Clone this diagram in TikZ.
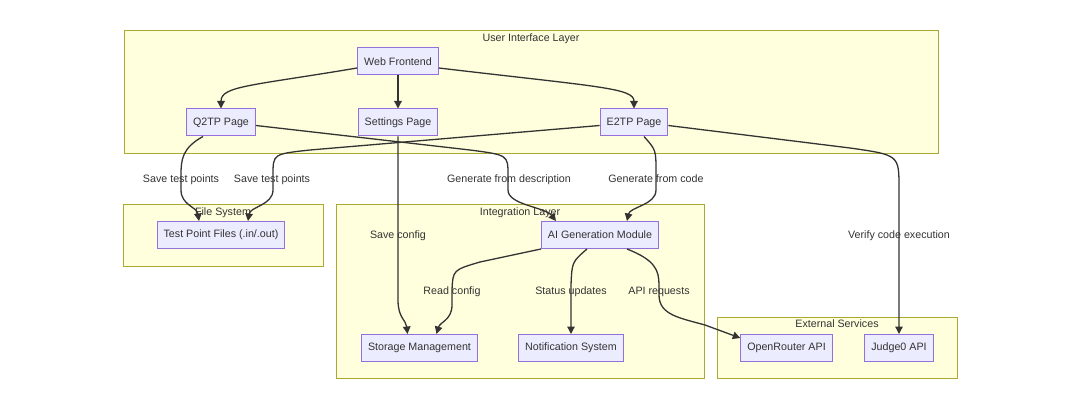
\documentclass[tikz,border=0pt]{standalone}
\usepackage{fontspec}
\setmainfont{Liberation Sans}
\usetikzlibrary{positioning,arrows.meta}
\definecolor{clusterfill}{HTML}{FFFFDE}
\definecolor{clusterline}{HTML}{AAAA33}
\definecolor{nodefill}{HTML}{ECECFF}
\definecolor{nodeline}{HTML}{9370DB}
\definecolor{edgeline}{HTML}{333333}

\begin{document}
\begin{tikzpicture}[x=1pt, y=-1pt,
  every node/.style={font=\fontsize{10.7}{12.8}\selectfont, text=edgeline},
  cluster/.style={rectangle, draw=clusterline, fill=clusterfill, line width=0.9pt, inner sep=0pt},
  clabel/.style={inner sep=0pt, text height=7.7pt, text depth=0pt},
  comp/.style={rectangle, draw=nodeline, fill=nodefill, line width=1pt,
               inner xsep=6.5pt, minimum height=27pt},
  elabel/.style={inner sep=0pt, text height=7.7pt, text depth=0pt},
  ar/.style={-{Triangle[length=7.5pt, width=7.5pt]}, line width=1.3pt, draw=edgeline},
]
\fill[white] (0,0) rectangle (1080,409);
\useasboundingbox (0,0) rectangle (1080,409);

% subgraphs
\node[cluster, minimum width=814pt, minimum height=123pt] (uil)  at (531,91.5)  {};
\node[cluster, minimum width=200pt, minimum height=62pt]  (fs)   at (223,235)   {};
\node[cluster, minimum width=368pt, minimum height=174pt] (intl) at (520,291)   {};
\node[cluster, minimum width=240pt, minimum height=61pt]  (ext)  at (837,347.5) {};

\node[clabel, below=4pt of uil.north]  (uiltxt)  {User Interface Layer};
\node[clabel, below=4pt of fs.north]   (fstxt)   {File System};
\node[clabel, below=4pt of intl.north] (intltxt) {Integration Layer};
\node[clabel, below=3.5pt of ext.north] (exttxt) {External Services};

% components
\node[comp] (web)      at (398,61.5)  {Web Frontend};
\node[comp] (q2tp)     at (221,122.5) {Q2TP Page};
\node[comp] (settings) at (398,122.5) {Settings Page};
\node[comp] (e2tp)     at (634,122.5) {E2TP Page};
\node[comp] (tpf)      at (221,235)   {Test Point Files (.in/.out)};
\node[comp] (ai)       at (600,235)   {AI Generation Module};
\node[comp] (storage)  at (419.5,348) {Storage Management};
\node[comp] (notif)    at (571,348)   {Notification System};
\node[comp] (openr)    at (786.5,348) {OpenRouter API};
\node[comp] (judge)    at (899,348)   {Judge0 API};

% edge labels
\node[elabel] (l1)  at (181,179) {Save test points};
\node[elabel] (l2)  at (272,179) {Save test points};
\node[elabel] (l3)  at (509,179) {Generate from description};
\node[elabel] (l4)  at (656,179) {Generate from code};
\node[elabel] (l5)  at (398,235) {Save config};
\node[elabel] (l6)  at (899,235) {Verify code execution};
\node[elabel] (l7)  at (452,291) {Read config};
\node[elabel] (l8)  at (571,291) {Status updates};
\node[elabel] (l9)  at (659,291) {API requests};

% edges
\draw[ar] ([yshift=-6.5pt]web.west) .. controls (250,86) and (221,86) .. (q2tp.north);
\draw[ar] (web) -- (settings);
\draw[ar] ([yshift=-6.5pt]web.east) .. controls (600,87) and (634,88) .. (e2tp.north);

\draw[ar] ([xshift=-18pt]q2tp.south) .. controls (182,148) and (181,160) .. (181,175)
          -- (181,190) .. controls (181,205) and (197,207) .. ([xshift=-22pt]tpf.north);
\draw[ar] ([yshift=-3pt]e2tp.west) -- (310,150) .. controls (273,154) .. (273,175)
          -- (273,190) .. controls (273,205) and (250,207) .. ([xshift=27pt]tpf.north);
\draw[ar] ([yshift=-3pt]q2tp.east) -- (470,150) .. controls (508,155) .. (508,175)
          -- (508,190) .. controls (508,205) and (545,207) .. ([xshift=-44pt]ai.north);
\draw[ar] (settings.south) -- (398,300) .. controls (398,318) and (406,320) .. ([xshift=-12pt]storage.north);
\draw[ar] ([xshift=10pt]e2tp.south) .. controls (656,150) .. (656,172)
          -- (656,190) .. controls (656,205) and (630,207) .. ([xshift=27pt]ai.north);
\draw[ar] ([yshift=-3pt]e2tp.east) -- (850,148) .. controls (899,155) .. (899,188) -- (judge.north);

\draw[ar] (ai.south west) -- (480,262) .. controls (453,270) .. (452,290)
          -- (452,305) .. controls (452,320) and (440,322) .. ([xshift=17pt]storage.north);
\draw[ar] ([xshift=-13pt]ai.south) .. controls (572,262) .. (571,285) -- (notif.north);
\draw[ar] ([xshift=27pt]ai.south) .. controls (655,260) and (659,270) .. (659,285)
          -- (659,295) .. controls (659,315) and (680,318) .. (705,325) -- ([yshift=10pt]openr.west);

\end{tikzpicture}
\end{document}
